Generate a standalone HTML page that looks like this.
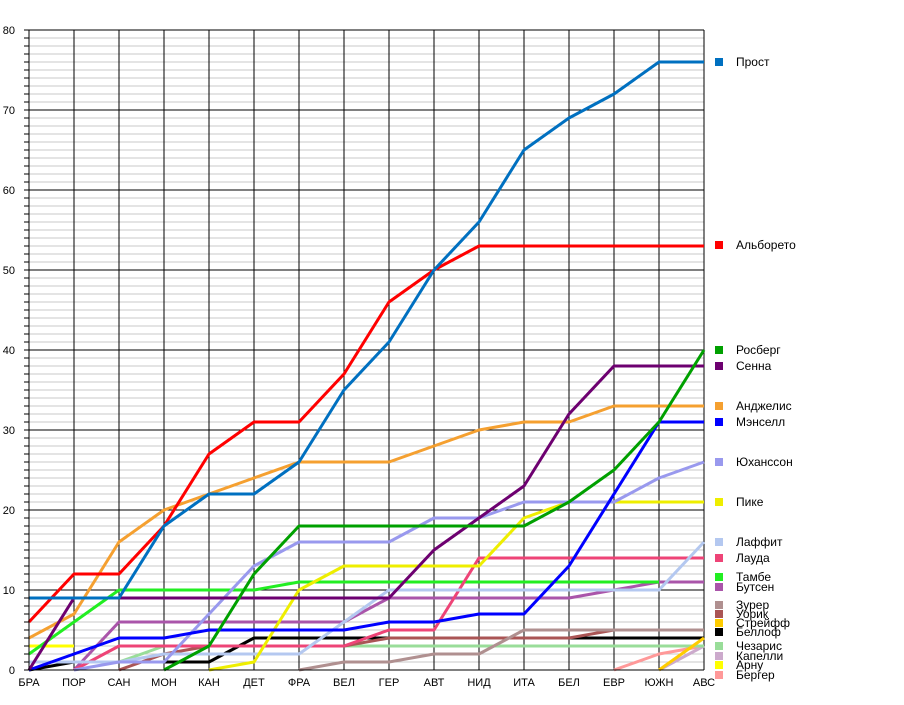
<!DOCTYPE html>
<html><head><meta charset="utf-8"><style>
body{margin:0;background:#fff}
svg text{font-family:"Liberation Sans",sans-serif;font-size:11px;fill:#000}
</style></head><body>
<svg id="c" width="904" height="700" xmlns="http://www.w3.org/2000/svg"></svg>
<script>
var s=document.getElementById('c'),h='';
function X(i){return 29+45*i}
function Y(v){return 670-v*8}
for(var v=1;v<80;v++){if(v%10)h+='<line x1="29" x2="704" y1="'+Y(v)+'" y2="'+Y(v)+'" stroke="#c8c8c8" stroke-width="1"/>';h+='<line x1="24" x2="29" y1="'+Y(v)+'" y2="'+Y(v)+'" stroke="#000"/>';}
for(var v=0;v<=80;v+=10){h+='<line x1="24" x2="704" y1="'+Y(v)+'" y2="'+Y(v)+'" stroke="#000"/>';h+='<text x="15" y="'+(Y(v)+4)+'" text-anchor="end">'+v+'</text>';}
var cats=['БРА','ПОР','САН','МОН','КАН','ДЕТ','ФРА','ВЕЛ','ГЕР','АВТ','НИД','ИТА','БЕЛ','ЕВР','ЮЖН','АВС'];
for(var i=0;i<16;i++){h+='<line x1="'+X(i)+'" x2="'+X(i)+'" y1="30" y2="670" stroke="#000"/>';h+='<text x="'+X(i)+'" y="686" text-anchor="middle">'+cats[i]+'</text>';}
var S=[
['Бергер','#ff9999',13,[0,2,3],675],
['Арну','#ffff00',0,[3,3],665],
['Капелли','#ccaacc',14,[0,3],656],
['Чезарис','#99dd99',2,[1,3,3,3,3,3,3,3,3,3,3,3,3,3],646],
['Беллоф','#000000',0,[0,1,1,1,1,4,4,4,4,4,4,4,4,4,4,4],632],
['Стрейфф','#ffcc00',14,[0,4],623],
['Уорик','#aa5555',2,[0,2,3,3,3,3,4,4,4,4,4,5,5,5],614],
['Зурер','#b09090',6,[0,1,1,2,2,5,5,5,5,5],605],
['Бутсен','#aa55aa',1,[0,6,6,6,6,6,6,9,9,9,9,9,10,11,11],587],
['Тамбе','#22ee22',0,[2,6,10,10,10,10,11,11,11,11,11,11,11,11,11],577],
['Лауда','#ee4477',1,[0,3,3,3,3,3,3,5,5,14,14,14,14,14,14],558],
['Лаффит','#b4c8f0',0,[1,1,1,2,2,2,2,6,10,10,10,10,10,10,10,16],542],
['Пике','#eeee00',4,[0,1,10,13,13,13,13,19,21,21,21,21],502],
['Юханссон','#9999ee',1,[0,1,1,7,13,16,16,16,19,19,21,21,21,24,26],462],
['Мэнселл','#0000ff',0,[0,2,4,4,5,5,5,5,6,6,7,7,13,22,31,31],422],
['Анджелис','#f5a030',0,[4,7,16,20,22,24,26,26,26,28,30,31,31,33,33,33],406],
['Сенна','#6d0070',0,[0,9,9,9,9,9,9,9,9,15,19,23,32,38,38,38],366],
['Росберг','#00a000',3,[0,3,12,18,18,18,18,18,18,21,25,31,40],350],
['Альборето','#ff0000',0,[6,12,12,18,27,31,31,37,46,50,53,53,53,53,53,53],245],
['Прост','#0070c0',0,[9,9,9,18,22,22,26,35,41,50,56,65,69,72,76,76],62]
];
S.forEach(function(r){var p=r[3].map(function(v,k){return X(r[2]+k)+','+Y(v)}).join(' ');
h+='<polyline points="'+p+'" fill="none" stroke="'+r[1]+'" stroke-width="3" stroke-linejoin="round"/>';
h+='<rect x="715" y="'+(r[4]-4)+'" width="8" height="8" fill="'+r[1]+'"/>';
h+='<text x="736" y="'+(r[4]+4)+'" style="font-size:12px">'+r[0]+'</text>';});
h+='<line x1="29" x2="704" y1="670" y2="670" stroke="#000"/><line x1="29" x2="29" y1="30" y2="670" stroke="#000"/>';
s.innerHTML=h;
</script>
</body></html>
